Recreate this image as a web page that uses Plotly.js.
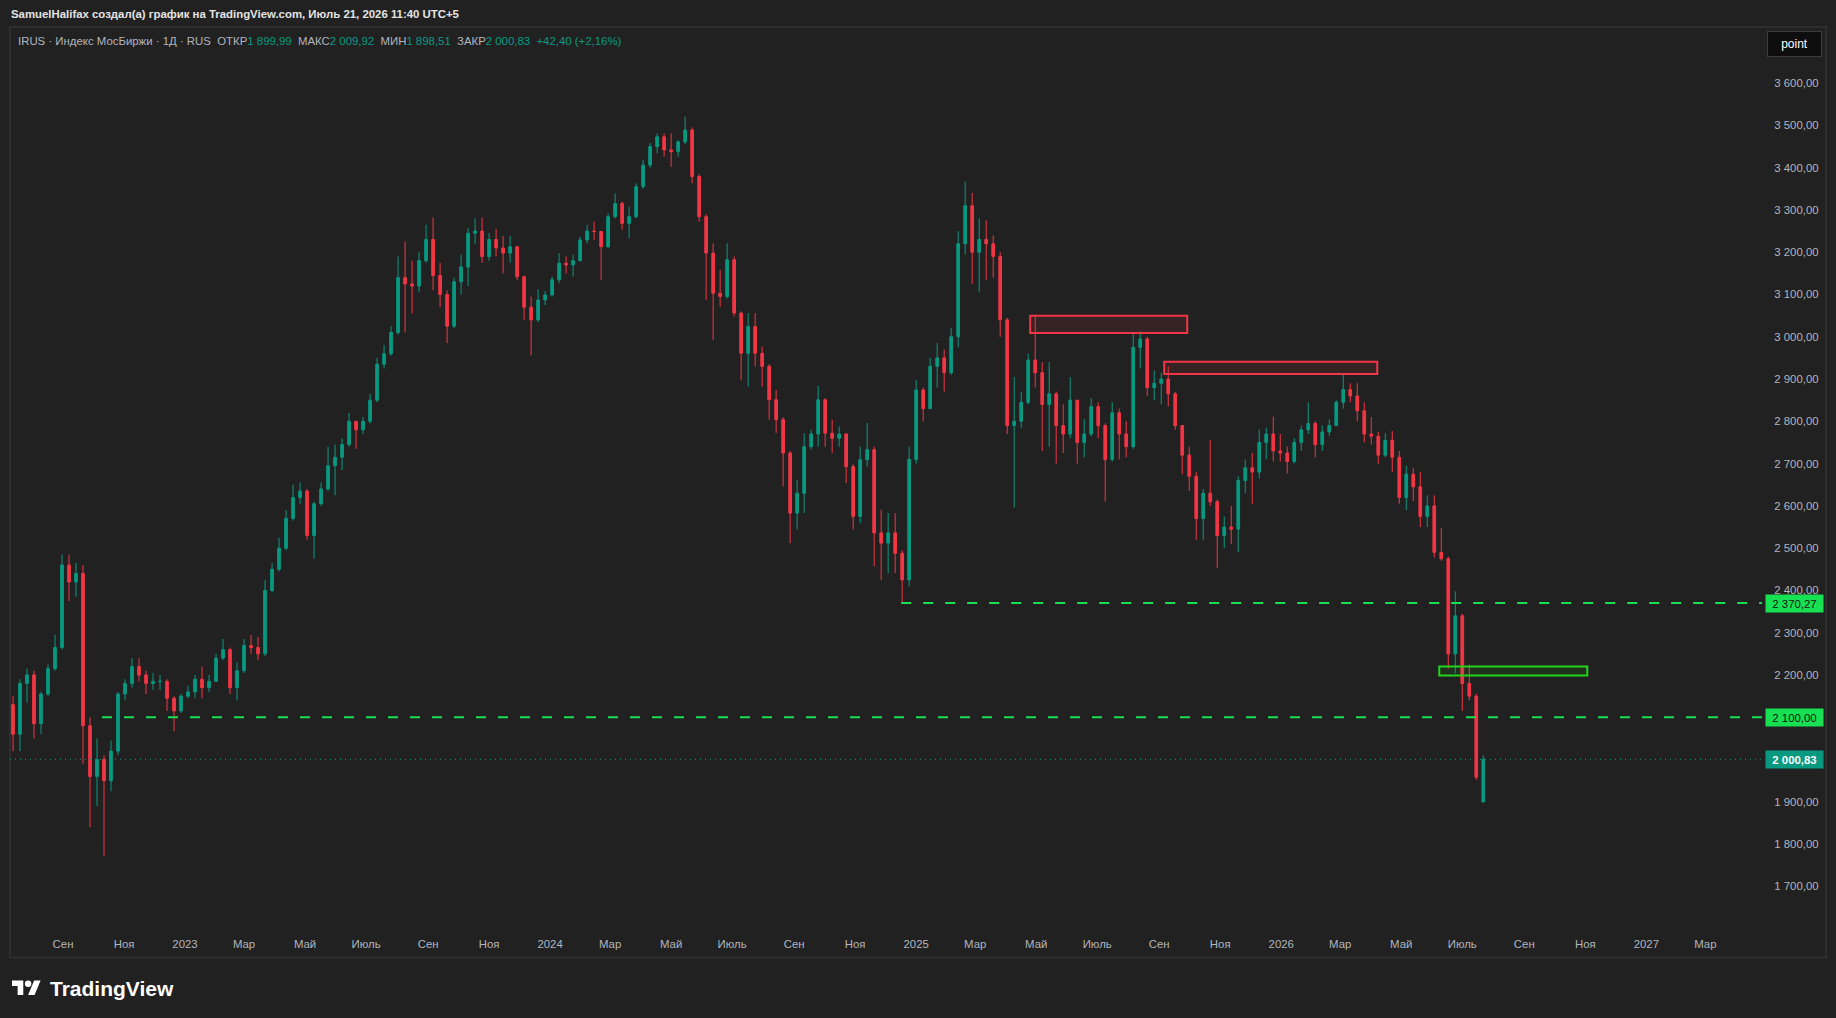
<!DOCTYPE html>
<html>
<head>
<meta charset="utf-8">
<script src="https://cdn.plot.ly/plotly-3.0.1.min.js"></script>
<style>
html,body{margin:0;padding:0;background:#212121;overflow:hidden;}
#chart{width:1836px;height:1018px;}
#tvlogo{position:absolute;left:12px;top:977px;width:29px;height:23px;}
</style>
</head>
<body>
<div id="chart"></div>
<svg id="tvlogo" viewBox="0 0 36 28"><path d="M14 22H7V11H0V4h14v18z M28 22h-8l7.5-18h8L28 22z" fill="#ffffff"/><circle cx="20" cy="8" r="4" fill="#ffffff"/></svg>
<script>
// ---------- DATA (weekly candles) ----------
const weeks = [
 '2022-07-13','2022-07-20','2022-07-27','2022-08-03','2022-08-10','2022-08-17','2022-08-24','2022-08-31','2022-09-07','2022-09-14','2022-09-21','2022-09-28','2022-10-05','2022-10-12','2022-10-19','2022-10-26','2022-11-02','2022-11-09','2022-11-16','2022-11-23','2022-11-30','2022-12-07','2022-12-14','2022-12-21','2022-12-28',
 '2023-01-04','2023-01-11','2023-01-18','2023-01-25','2023-02-01','2023-02-08','2023-02-15','2023-02-22','2023-03-01','2023-03-08','2023-03-15','2023-03-22','2023-03-29','2023-04-05','2023-04-12','2023-04-19','2023-04-26','2023-05-03','2023-05-10','2023-05-17','2023-05-24','2023-05-31','2023-06-07','2023-06-14','2023-06-21','2023-06-28','2023-07-05','2023-07-12','2023-07-19','2023-07-26','2023-08-02','2023-08-09','2023-08-16','2023-08-23','2023-08-30','2023-09-06','2023-09-13','2023-09-20','2023-09-27','2023-10-04','2023-10-11','2023-10-18','2023-10-25','2023-11-01','2023-11-08','2023-11-15','2023-11-22','2023-11-29','2023-12-06','2023-12-13','2023-12-20','2023-12-27',
 '2024-01-03','2024-01-10','2024-01-17','2024-01-24','2024-01-31','2024-02-07','2024-02-14','2024-02-21','2024-02-28','2024-03-06','2024-03-13','2024-03-20','2024-03-27','2024-04-03','2024-04-10','2024-04-17','2024-04-24','2024-05-01','2024-05-08','2024-05-15','2024-05-22','2024-05-29','2024-06-05','2024-06-12','2024-06-19','2024-06-26','2024-07-03','2024-07-10','2024-07-17','2024-07-24','2024-07-31','2024-08-07','2024-08-14','2024-08-21','2024-08-28','2024-09-04','2024-09-11','2024-09-18','2024-09-25','2024-10-02','2024-10-09','2024-10-16','2024-10-23','2024-10-30','2024-11-06','2024-11-13','2024-11-20','2024-11-27','2024-12-04','2024-12-11','2024-12-18','2024-12-25',
 '2025-01-01','2025-01-08','2025-01-15','2025-01-22','2025-01-29','2025-02-05','2025-02-12','2025-02-19','2025-02-26','2025-03-05','2025-03-12','2025-03-19','2025-03-26','2025-04-02','2025-04-09','2025-04-16','2025-04-23','2025-04-30','2025-05-07','2025-05-14','2025-05-21','2025-05-28','2025-06-04','2025-06-11','2025-06-18','2025-06-25','2025-07-02','2025-07-09','2025-07-16','2025-07-23','2025-07-30','2025-08-06','2025-08-13','2025-08-20','2025-08-27','2025-09-03','2025-09-10','2025-09-17','2025-09-24','2025-10-01','2025-10-08','2025-10-15','2025-10-22','2025-10-29','2025-11-05','2025-11-12','2025-11-19','2025-11-26','2025-12-03','2025-12-10','2025-12-17','2025-12-24','2025-12-31',
 '2026-01-07','2026-01-14','2026-01-21','2026-01-28','2026-02-04','2026-02-11','2026-02-18','2026-02-25','2026-03-04','2026-03-11','2026-03-18','2026-03-25','2026-04-01','2026-04-08','2026-04-15','2026-04-22','2026-04-29','2026-05-06','2026-05-13','2026-05-20','2026-05-27','2026-06-03','2026-06-10','2026-06-17','2026-06-24','2026-07-01','2026-07-08','2026-07-15','2026-07-22'
];
const openP = [
 2130,2060,2180,2200,2085,2155,2215,2265,2460,2420,2440,2080,1960,2000,1950,2020,2155,2180,2220,2200,2180,2185,2185,2145,2115,
 2150,2160,2190,2170,2185,2240,2260,2170,2210,2270,2265,2250,2400,2450,2500,2570,2620,2635,2530,2605,2640,2695,2715,2745,2800,2780,2800,2850,2935,2960,3010,3140,3125,3120,3180,3230,3145,3100,3025,3130,3165,3245,3250,3190,3230,3210,3198,3213,3142,3070,3040,3087,
 3099,3135,3174,3170,3180,3229,3250,3249,3213,3284,3315,3268,3284,3355,3406,3450,3473,3442,3438,3461,3489,3379,3284,3198,3103,3095,3182,3056,2961,3024,2961,2930,2851,2804,2725,2583,2630,2740,2770,2851,2772,2760,2770,2693,2575,2709,2733,2536,2512,2536,2488,2425,
 2710,2874,2830,2930,2950,2915,3000,3220,3310,3200,3230,3220,3190,3040,2790,2800,2845,2945,2915,2840,2865,2790,2770,2850,2750,2770,2835,2790,2710,2820,2770,2740,2975,2995,2880,2890,2900,2865,2790,2720,2670,2570,2630,2610,2530,2550,2545,2660,2690,2680,2750,2770,2730,
 2725,2705,2750,2780,2795,2745,2775,2790,2845,2875,2860,2825,2770,2765,2720,2755,2715,2620,2675,2645,2575,2600,2490,2475,2250,2340,2180,2150,1899.99
];
const highP = [
 2150,2190,2215,2210,2160,2225,2295,2485,2485,2465,2460,2100,2050,2010,2045,2160,2190,2240,2240,2210,2205,2200,2190,2150,2155,
 2175,2200,2220,2200,2250,2285,2265,2230,2285,2295,2290,2425,2465,2525,2590,2650,2655,2640,2610,2655,2740,2745,2760,2820,2800,2810,2865,2950,2980,3025,3190,3225,3180,3200,3265,3282,3175,3110,3140,3195,3258,3280,3282,3245,3255,3238,3238,3215,3145,3095,3112,3108,
 3142,3198,3190,3194,3237,3265,3272,3250,3292,3339,3320,3308,3363,3418,3458,3481,3481,3481,3465,3521,3495,3385,3290,3221,3158,3221,3190,3060,3056,3056,2977,2935,2874,2810,2730,2662,2772,2780,2884,2855,2804,2788,2772,2700,2740,2796,2740,2591,2583,2583,2495,2740,
 2898,2880,2950,2985,2970,3020,3250,3367,3340,3280,3275,3240,3200,3045,2905,2870,2960,3048,2940,2940,2870,2840,2905,2850,2805,2855,2845,2795,2845,2830,2800,3010,3013,3000,2920,2915,2930,2870,2790,2740,2680,2640,2756,2615,2575,2600,2670,2710,2725,2780,2785,2811,2770,
 2740,2760,2790,2845,2800,2790,2805,2850,2910,2890,2890,2845,2810,2775,2772,2777,2730,2695,2690,2680,2625,2625,2547,2480,2398,2345,2225,2155,2009.92
];
const lowP = [
 2020,2020,2135,2050,2060,2150,2210,2260,2375,2385,1990,1840,1890,1772,1925,2010,2140,2170,2185,2155,2165,2165,2115,2067,2110,
 2145,2145,2145,2160,2185,2235,2155,2140,2205,2250,2235,2245,2395,2445,2495,2565,2605,2520,2475,2600,2635,2625,2685,2740,2735,2770,2795,2845,2925,2955,3005,3010,3055,3105,3175,3110,3070,2985,3020,3100,3120,3220,3175,3180,3190,3150,3175,3134,3040,2956,3035,3075,
 3095,3127,3150,3142,3178,3221,3229,3134,3210,3280,3253,3233,3280,3350,3400,3434,3426,3402,3426,3455,3363,3272,3087,2993,3071,3090,3048,2898,2882,2930,2882,2804,2772,2646,2512,2544,2583,2733,2740,2740,2725,2740,2654,2544,2559,2693,2457,2425,2441,2441,2370.27,2410,
 2700,2800,2830,2880,2870,2910,2975,3195,3125,3105,3135,3140,3000,2770,2596,2785,2840,2880,2730,2740,2700,2725,2760,2700,2715,2765,2760,2610,2705,2710,2715,2735,2925,2860,2850,2840,2835,2780,2675,2635,2520,2520,2600,2453,2500,2510,2490,2630,2605,2665,2710,2705,2705,
 2677,2700,2730,2770,2715,2730,2765,2790,2830,2845,2800,2750,2745,2700,2715,2680,2605,2590,2612,2550,2550,2478,2470,2215,2204,2115,2140,1952,1898.51
];
const closeP = [
 2060,2180,2200,2085,2155,2215,2265,2460,2420,2440,2080,1960,2000,1950,2020,2155,2180,2220,2200,2180,2185,2185,2145,2115,2150,
 2160,2190,2170,2185,2240,2260,2170,2210,2270,2265,2250,2400,2450,2500,2570,2620,2635,2530,2605,2640,2695,2715,2745,2800,2780,2800,2850,2935,2960,3010,3140,3125,3120,3180,3230,3145,3100,3025,3130,3165,3245,3250,3190,3230,3210,3198,3213,3142,3070,3040,3087,3099,
 3135,3174,3170,3180,3229,3250,3249,3213,3284,3315,3268,3284,3355,3406,3450,3473,3442,3438,3461,3489,3379,3284,3198,3103,3095,3182,3056,2961,3024,2961,2930,2851,2804,2725,2583,2630,2740,2770,2851,2772,2760,2770,2693,2575,2709,2733,2536,2512,2536,2488,2425,2710,
 2874,2830,2930,2950,2915,3000,3220,3310,3200,3230,3220,3190,3040,2790,2800,2845,2945,2915,2840,2865,2790,2770,2850,2750,2770,2835,2790,2710,2820,2770,2740,2975,2995,2880,2890,2900,2865,2790,2720,2670,2570,2630,2610,2530,2550,2545,2660,2690,2680,2750,2770,2730,2725,
 2705,2750,2780,2795,2745,2775,2790,2845,2875,2860,2825,2770,2765,2720,2755,2715,2620,2675,2645,2575,2600,2490,2475,2250,2340,2180,2150,1958.43,2000.83
];

// x-axis ticks (month starts) and their labels
const monthTicks = ['2022-09-01','2022-11-01','2023-01-01','2023-03-01','2023-05-01','2023-07-01','2023-09-01','2023-11-01','2024-01-01','2024-03-01','2024-05-01','2024-07-01','2024-09-01','2024-11-01','2025-01-01','2025-03-01','2025-05-01','2025-07-01','2025-09-01','2025-11-01','2026-01-01','2026-03-01','2026-05-01','2026-07-01','2026-09-01','2026-11-01','2027-01-01','2027-03-01'];
const monthLabels = ['Сен','Ноя','2023','Мар','Май','Июль','Сен','Ноя','2024','Мар','Май','Июль','Сен','Ноя','2025','Мар','Май','Июль','Сен','Ноя','2026','Мар','Май','Июль','Сен','Ноя','2027','Мар'];
// y-axis ticks (2000 and 2100 are hidden behind the price labels in the reference)
const priceTicks = [1700,1800,1900,2200,2300,2400,2500,2600,2700,2800,2900,3000,3100,3200,3300,3400,3500,3600];

// horizontal levels (dashed green) and where they start
const levelValues = [2370.27, 2100];
const levelStarts = ['2024-12-17','2022-10-10'];

// zones (rectangles)
const zoneStart = ['2025-04-25','2025-09-06','2026-06-08'];
const zoneEnd   = ['2025-09-29','2026-04-07','2026-11-03'];
const zoneLow   = [3009, 2912, 2199];
const zoneHigh  = [3050, 2941, 2220];
const zoneKind  = ['resist','resist','support'];

// visible window
const xStart = '2022-07-10';
const xEnd = '2027-04-26 16:00';
const yMin = 1596.9, yMax = 3730.3;

// texts
const headerText = 'SamuelHalifax создал(а) график на TradingView.com, Июль 21, 2026 11:40 UTC+5';

// ---------- STYLE / LAYOUT ----------
const FONT = '"Liberation Sans",Arial,sans-serif';
const FS = 11.4;
const UP = '#089981', DOWN = '#f23645', LEVEL = '#17e153', GRAY = '#b2b5be', BG = '#212121';
const W = 1836, H = 1018, ML = 10, MR = 74, MT = 28, MB = 88;
const PW = W - ML - MR, PH = H - MT - MB;
const px2x = px => (px - ML) / PW;
const py2y = py => (MT + PH - py) / PH;

function fmtPrice(v){
  const s = v.toFixed(2).split('.');
  return s[0].replace(/\B(?=(\d{3})+(?!\d))/g, ' ') + ',' + s[1];
}

const last = closeP.length - 1;
const lastClose = closeP[last];

const trace = {
  type: 'candlestick',
  x: weeks, open: openP, high: highP, low: lowP, close: closeP,
  increasing: {line: {color: UP, width: 1}, fillcolor: UP},
  decreasing: {line: {color: DOWN, width: 1}, fillcolor: DOWN},
  whiskerwidth: 0,
  hoverinfo: 'none'
};

const shapes = [];
// pane frame
shapes.push({type:'rect', xref:'paper', yref:'paper', x0:px2x(10), x1:px2x(1826), y0:py2y(957.5), y1:py2y(27),
  line:{color:'#2e2e2e', width:2}, layer:'below'});
// zones
zoneStart.forEach((s,i) => {
  const red = zoneKind[i] === 'resist';
  shapes.push({type:'rect', xref:'x', yref:'y', x0:s, x1:zoneEnd[i], y0:zoneLow[i], y1:zoneHigh[i],
    line:{color: red ? '#f23645' : '#22d41a', width:2},
    fillcolor: red ? 'rgba(242,54,69,0.10)' : 'rgba(34,212,26,0.08)', layer:'above'});
});
// levels
levelValues.forEach((v,i) => {
  shapes.push({type:'line', xref:'x', yref:'y', x0:levelStarts[i], x1:xEnd, y0:v, y1:v,
    line:{color:LEVEL, width:2, dash:'10px,12px'}});
});
// last price dotted line
shapes.push({type:'line', xref:'x', yref:'y', x0:xStart, x1:xEnd, y0:lastClose, y1:lastClose,
  line:{color:UP, width:1, dash:'1px,4px'}});

const teal = s => '<span style="color:#089981">' + s + '</span>';
const NB = '\u00a0\u00a0';
const legendText = 'IRUS · Индекс МосБиржи · 1Д · RUS' + NB + 'ОТКР' + teal('1 899,99') + NB + 'МАКС' + teal('2 009,92') + NB +
  'МИН' + teal('1 898,51') + NB + 'ЗАКР' + teal('2 000,83') + NB + teal('+42,40 (+2,16%)');

const annotations = [
  {xref:'paper', yref:'paper', x:0, y:1, xanchor:'left', yanchor:'middle', xshift:-1, yshift:14, showarrow:false,
   text:'<b>' + headerText + '</b>', font:{family:FONT, size:FS, color:'#e4e4e4'}},
  {xref:'paper', yref:'paper', x:0, y:1, xanchor:'left', yanchor:'middle', xshift:6, yshift:-13, showarrow:false,
   text:legendText, font:{family:FONT, size:FS, color:GRAY}},
  {xref:'paper', yref:'paper', x:1, y:1, xanchor:'left', yanchor:'middle', xshift:5, yshift:-16, showarrow:false,
   text:'point', font:{family:FONT, size:12, color:'#ffffff'}, bgcolor:'#0e0e0e', bordercolor:'#3d3d3d', borderwidth:1,
   borderpad:0, width:53, height:24},
  {xref:'paper', yref:'paper', x:0, y:0, xanchor:'left', yanchor:'middle', xshift:38, yshift:-58, showarrow:false,
   text:'<b>TradingView</b>', font:{family:FONT, size:21, color:'#ffffff'}}
];
levelValues.forEach(v => {
  annotations.push({xref:'paper', yref:'y', x:1, y:v, xanchor:'left', yanchor:'middle', xshift:3, showarrow:false,
    text:fmtPrice(v), font:{family:FONT, size:FS, color:'#111111'}, bgcolor:LEVEL, width:55, height:15, borderpad:1});
});
annotations.push({xref:'paper', yref:'y', x:1, y:lastClose, xanchor:'left', yanchor:'middle', xshift:3, showarrow:false,
  text:'<b>' + fmtPrice(lastClose) + '</b>', font:{family:FONT, size:FS, color:'#ffffff'}, bgcolor:UP, width:55, height:15, borderpad:1});

const layout = {
  width: W, height: H,
  margin: {l:ML, r:MR, t:MT, b:MB, pad:0},
  paper_bgcolor: BG, plot_bgcolor: BG,
  separators: ', ',
  showlegend: false,
  boxgap: 0.45,
  font: {family: FONT, size: FS, color: GRAY},
  xaxis: {type:'date', range:[xStart, xEnd], tickmode:'array', tickvals:monthTicks, ticktext:monthLabels,
    ticks:'outside', ticklen:3, tickcolor:'rgba(0,0,0,0)', showgrid:false, zeroline:false, showline:false,
    rangeslider:{visible:false}, tickfont:{family:FONT, size:FS, color:GRAY}},
  yaxis: {side:'right', range:[yMin, yMax], tickmode:'array', tickvals:priceTicks, tickformat:',.2f',
    ticks:'outside', ticklen:9, tickcolor:'rgba(0,0,0,0)', showgrid:false, zeroline:false, showline:false,
    tickfont:{family:FONT, size:FS, color:GRAY}},
  shapes: shapes,
  annotations: annotations
};

Plotly.newPlot('chart', [trace], layout, {staticPlot:true, displayModeBar:false});
</script>
</body>
</html>
